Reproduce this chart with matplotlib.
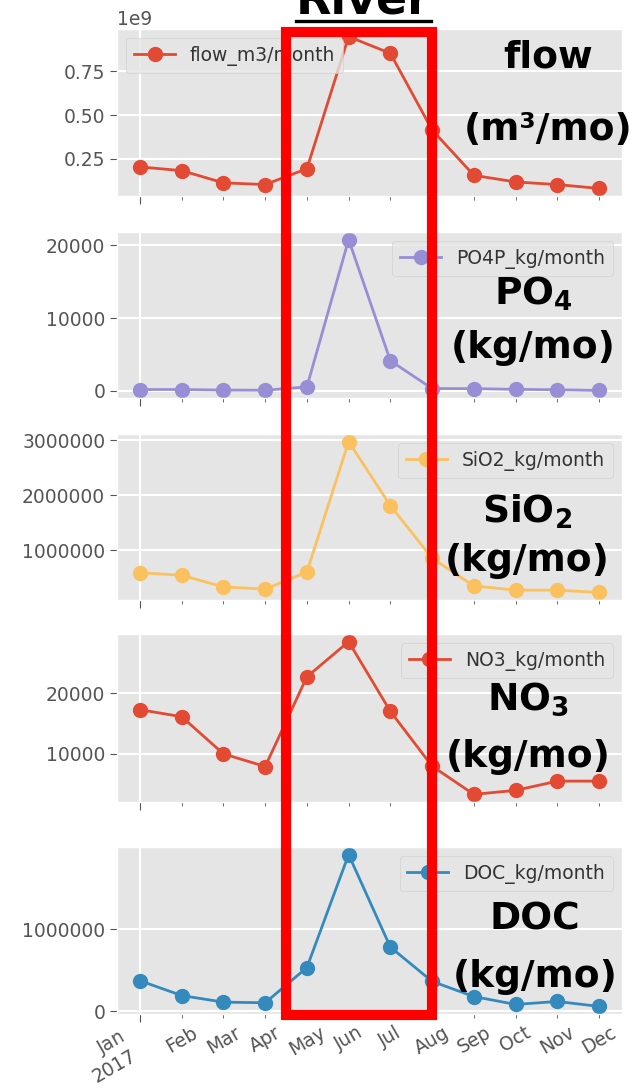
"""Monthly river loads for 2017: flow and nutrient fluxes, stacked panels."""

import matplotlib

matplotlib.use("Agg")
import matplotlib.pyplot as plt
import matplotlib.transforms as mtransforms
import numpy as np
from matplotlib.lines import Line2D
from matplotlib.patches import Rectangle
from matplotlib.ticker import ScalarFormatter

plt.style.use("ggplot")

W, H = 634, 1091

months = ["Jan\n2017", "Feb", "Mar", "Apr", "May", "Jun",
          "Jul", "Aug", "Sep", "Oct", "Nov", "Dec"]

flow = [0.203e9, 0.182e9, 0.112e9, 0.102e9, 0.193e9, 0.95e9,
        0.854e9, 0.415e9, 0.155e9, 0.117e9, 0.102e9, 0.080e9]
po4 = [180, 180, 100, 80, 540, 20810, 4140, 315, 300, 200, 150, 50]
sio2 = [586e3, 538e3, 327e3, 285e3, 598e3, 2.98e6,
        1.81e6, 850e3, 345e3, 267e3, 267e3, 225e3]
no3 = [17310, 16150, 10000, 7910, 22750, 28570,
       17030, 7970, 3300, 3960, 5490, 5490]
doc = [372e3, 192e3, 112e3, 104e3, 532e3, 1.904e6,
       780e3, 364e3, 180e3, 84e3, 120e3, 60e3]

series_names = ["flow_m3/month", "PO4P_kg/month", "SiO2_kg/month",
                "NO3_kg/month", "DOC_kg/month"]
series_colors = ["#E24A33", "#988ED5", "#FBC15E", "#E24A33", "#348ABD"]
legend_locs = ["upper left", "upper right", "upper right",
               "upper right", "upper right"]
yticks = [
    [0.25e9, 0.50e9, 0.75e9],
    [0, 10000, 20000],
    [1e6, 2e6, 3e6],
    [10000, 20000],
    [0, 1e6],
]

# bold side labels: two lines each
side_labels = [
    ("flow", "(m³/mo)"),
    (r"$\mathbf{PO_4}$", "(kg/mo)"),
    (r"$\mathbf{SiO_2}$", "(kg/mo)"),
    (r"$\mathbf{NO_3}$", "(kg/mo)"),
    ("DOC", "(kg/mo)"),
]

# highlighted period, in month index units
highlight_span = (3.5, 7.0)

# panel extents in pixels from the top edge
panel_rows = [(29, 196), (232, 398), (434, 600), (634, 802), (847, 1014)]
label_x = [548, 533, 527, 528, 535]
label_baselines = [(68, 140), (305, 358), (523, 571), (710, 767), (930, 987)]

TICK_FS = 13.5

fig = plt.figure(figsize=(W / 100, H / 100), dpi=100)
fig.patch.set_facecolor("white")

x = np.arange(len(months))
data = [flow, po4, sio2, no3, doc]
axes = []
for i, (top, bottom) in enumerate(panel_rows):
    rect = [117 / W, 1 - bottom / H, (622 - 117) / W, (bottom - top) / H]
    ax = fig.add_axes(rect, sharex=axes[0] if axes else None)
    ax.plot(x, data[i], marker="o", color=series_colors[i], lw=2, ms=10,
            label=series_names[i])
    ax.set_yticks(yticks[i])
    fmt = ScalarFormatter(useOffset=False)
    if i == 0:
        fmt.set_powerlimits((9, 9))
    else:
        fmt.set_scientific(False)
    ax.yaxis.set_major_formatter(fmt)
    ax.tick_params(axis="y", labelsize=TICK_FS, colors="#555555", length=5)
    ax.yaxis.get_offset_text().set_fontsize(TICK_FS)
    ax.grid(True, color="white", lw=1.5)
    leg = ax.legend(loc=legend_locs[i], fontsize=TICK_FS, handlelength=2.2)
    for t in leg.get_texts():
        t.set_color("#333333")
    axes.append(ax)

for ax in axes:
    ax.set_xticks([0])
    ax.set_xticks(x[1:], minor=True)
    ax.tick_params(axis="x", which="major", length=6, color="#555555")
    ax.tick_params(axis="x", which="minor", length=3, color="#555555")
    ax.tick_params(axis="x", which="both", labelbottom=False)

bottom_ax = axes[-1]
bottom_ax.set_xticklabels([months[0]])
bottom_ax.set_xticklabels(months[1:], minor=True)
bottom_ax.tick_params(axis="x", which="both", labelbottom=True,
                      labelsize=TICK_FS, labelcolor="#555555")
for lbl in bottom_ax.get_xticklabels():
    lbl.set_rotation(30)
    lbl.set_ha("right")
for lbl in bottom_ax.get_xticklabels(minor=True):
    lbl.set_rotation(30)
    lbl.set_ha("center")

# red box around the high-flow months, spanning all panels
box_trans = mtransforms.blended_transform_factory(bottom_ax.transData,
                                                  fig.transFigure)
box_top, box_bottom = 1 - 32 / H, 1 - 1015 / H
fig.patches.append(Rectangle(
    (highlight_span[0], box_bottom),
    highlight_span[1] - highlight_span[0], box_top - box_bottom,
    transform=box_trans, fill=False, edgecolor="#FF0000", lw=7.3,
    zorder=5, clip_on=False))

for (line1, line2), cx, (b1, b2) in zip(side_labels, label_x, label_baselines):
    for text, base in ((line1, b1), (line2, b2)):
        fig.text(cx / W, 1 - base / H, text, ha="center", va="baseline",
                 fontsize=27, fontweight="bold", color="black", zorder=6)

fig.text(363 / W, 1 - 13 / H, "River", ha="center", va="baseline",
         fontsize=33, fontweight="bold", color="black")
fig.lines.append(Line2D([296 / W, 431 / W], [1 - 20.5 / H, 1 - 20.5 / H],
                        transform=fig.transFigure, color="black", lw=2.4))

fig.savefig("out.png", dpi=100)
